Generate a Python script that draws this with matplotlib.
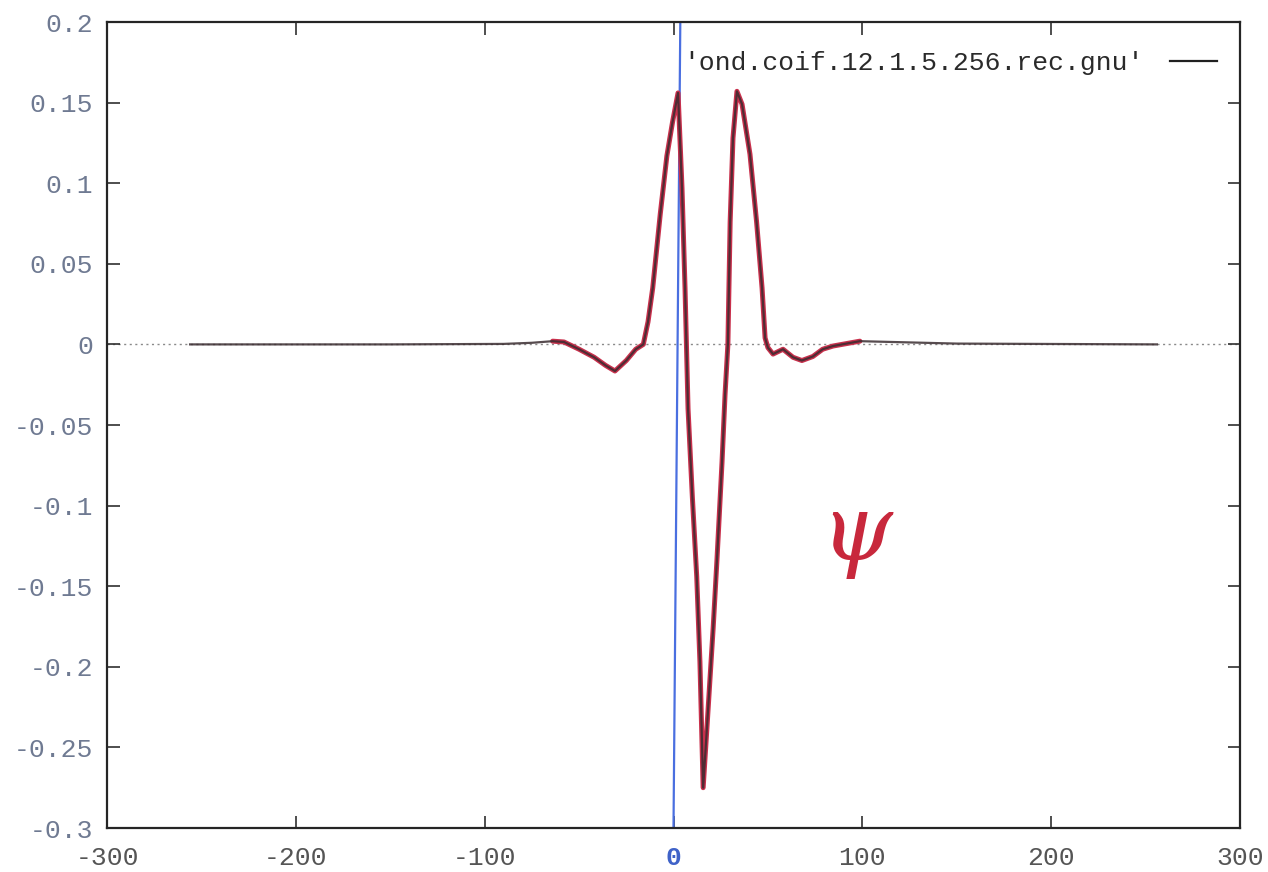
import matplotlib
matplotlib.use("Agg")
import matplotlib.pyplot as plt
import numpy as np

# wavelet samples (x, psi)
x_vals = [-256, -150, -90, -75, -64, -58, -50, -42, -36, -31, -25, -20, -16,
          -13.5, -11, -7, -3.5, -0.5, 2.4, 4.5, 6.1, 7.7, 10, 12.3, 14, 15.7,
          17.7, 21, 23, 25.7, 27.3, 28.8, 30, 31.5, 33.6, 36.3, 40.5, 44,
          46.9, 48.5, 50, 52.7, 58, 63.3, 68, 73.8, 79, 84.5, 98.7, 150, 256]
y_vals = [0.0, 0.0, 0.0003, 0.001, 0.002, 0.0015, -0.003, -0.008, -0.013,
          -0.0165, -0.010, -0.003, 0.0, 0.014, 0.035, 0.081, 0.117, 0.138,
          0.156, 0.097, 0.035, -0.04, -0.095, -0.144, -0.197, -0.275,
          -0.238, -0.176, -0.134, -0.073, -0.031, 0.0, 0.076, 0.128, 0.157,
          0.149, 0.118, 0.076, 0.035, 0.004, -0.002, -0.006, -0.003, -0.008,
          -0.010, -0.0075, -0.003, -0.001, 0.002, 0.0005, 0.0]

x_ticks = [-300, -200, -100, 0, 100, 200, 300]
y_ticks = [-0.3, -0.25, -0.2, -0.15, -0.1, -0.05, 0, 0.05, 0.1, 0.15, 0.2]
y_labels = ["-0.3", "-0.25", "-0.2", "-0.15", "-0.1", "-0.05", "0",
            "0.05", "0.1", "0.15", "0.2"]
legend_label = "'ond.coif.12.1.5.256.rec.gnu'"

plt.rcParams['font.family'] = ['Liberation Mono', 'DejaVu Sans Mono']

fig = plt.figure(figsize=(12.68, 8.72), dpi=100)
ax = fig.add_axes([107 / 1268, 44 / 872, 1133 / 1268, 806 / 872])

x = np.array(x_vals)
y = np.array(y_vals)

# zero axis, dotted like gnuplot
ax.axhline(0, color="#8a8a8a", lw=1.0, ls=(0, (1.5, 2.5)), zorder=1)

# hand-drawn blue vertical at x=0 (slightly tilted)
ax.plot([0, 3.6], [-0.3, 0.2], color="#4a6fe0", lw=1.6, zorder=2)

# red marker pen trace over the central part
m = (x >= -66) & (x <= 100)
ax.plot(x[m], y[m], color="#c8304c", lw=3.6, solid_joinstyle="round",
        solid_capstyle="round", zorder=3)
line, = ax.plot(x, y, color="#3a2c30", lw=1.6, alpha=0.85, zorder=4,
                label=legend_label)

ax.set_xlim(-300, 300)
ax.set_ylim(-0.3, 0.2)
ax.set_xticks(x_ticks)
ax.set_xticklabels([str(t) for t in x_ticks])
ax.set_yticks(y_ticks)
ax.set_yticklabels(y_labels)

for s in ax.spines.values():
    s.set_linewidth(1.6)
    s.set_color("#252525")
ax.tick_params(axis="both", direction="in", length=9, width=1.2,
               color="#303030", top=True, right=True, labelsize=19)
ax.tick_params(axis="y", pad=10, labelcolor="#6f7a92")
ax.tick_params(axis="x", pad=13, labelcolor="#555555")
for lab in ax.get_xticklabels():
    if lab.get_text() == "0":
        lab.set_color("#3f62c8")
        lab.set_fontweight("bold")

leg = ax.legend(handles=[line], loc="center right",
                bbox_to_anchor=(0.98, 0.949), frameon=False,
                markerfirst=False, handlelength=1.8, handletextpad=1.0,
                borderpad=0, borderaxespad=0, fontsize=19)
for t in leg.get_texts():
    t.set_color("#2a2a2a")
leg.get_lines()[0].set_alpha(1)
leg.get_lines()[0].set_color("#202020")

# handwritten psi
ax.text(97, -0.118, "\u03c8", color="#c8283c", fontsize=66,
        family="DejaVu Serif", style="italic", ha="center", va="center")

fig.savefig("out.png", dpi=100)
